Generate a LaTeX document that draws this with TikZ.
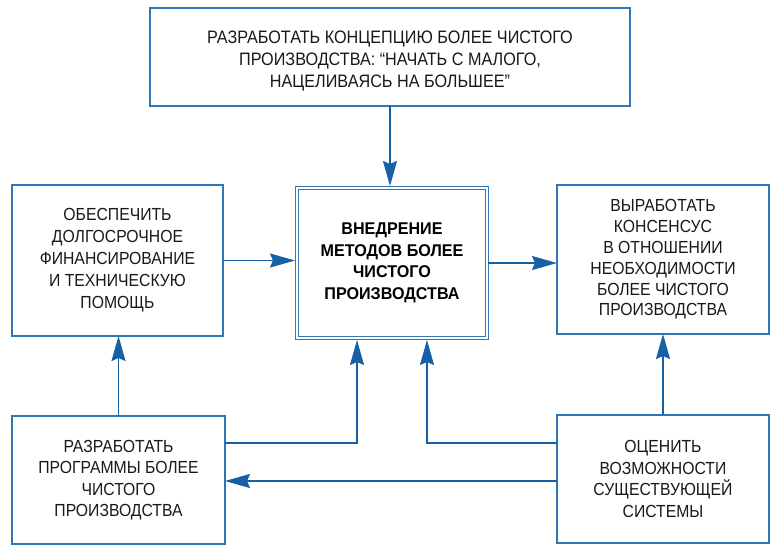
\documentclass[tikz,border=0pt]{standalone}
\usepackage{fontspec}
\setmainfont{Liberation Sans}[FakeStretch=0.9]
\newfontfamily\boldcn{Liberation Sans Bold}[FakeStretch=0.95]
\usetikzlibrary{arrows.meta}
\definecolor{boxblue}{RGB}{48,118,182}
\definecolor{arrblue}{RGB}{24,96,166}
\definecolor{txt}{RGB}{25,25,25}
\begin{document}
\begin{tikzpicture}[x=1pt,y=-1pt,
  box/.style={draw=boxblue, line width=1.3pt, anchor=north west, inner sep=0pt, outer sep=0pt,
    align=center, text=txt, font=\fontsize{17.5}{21.5}\selectfont},
  mainbox/.style={draw=boxblue, double=white, double distance=1.8pt, line width=1.2pt, anchor=north west,
    inner sep=0pt, outer sep=0pt, align=center, text=black, font=\boldcn\fontsize{17}{21.5}\selectfont},
  arr/.style={draw=arrblue, line width=1.5pt, -{Stealth[length=25pt,width=14pt,inset=3pt]}}]
\useasboundingbox[fill=white] (0,0) rectangle (775,544);

\node[box, minimum width=480pt, minimum height=98pt] (top) at (150,8) {};
\node[txt, align=center, font=\fontsize{18}{22}\selectfont] (toptext) at (390,61)
  {РАЗРАБОТАТЬ КОНЦЕПЦИЮ БОЛЕЕ ЧИСТОГО\\ПРОИЗВОДСТВА: “НАЧАТЬ С МАЛОГО,\\НАЦЕЛИВАЯСЬ НА БОЛЬШЕЕ”};

\node[mainbox, minimum width=190pt, minimum height=150pt] (center) at (297,188)
  {ВНЕДРЕНИЕ\\МЕТОДОВ БОЛЕЕ\\ЧИСТОГО\\ПРОИЗВОДСТВА};

\node[box, minimum width=211pt, minimum height=151pt, font=\fontsize{17.5}{22}\selectfont] (left) at (12,185)
  {ОБЕСПЕЧИТЬ\\ДОЛГОСРОЧНОЕ\\ФИНАНСИРОВАНИЕ\\И ТЕХНИЧЕСКУЮ\\ПОМОЩЬ};

\node[box, minimum width=212pt, minimum height=149pt, font=\fontsize{17.5}{20.8}\selectfont] (right) at (557,185)
  {ВЫРАБОТАТЬ\\КОНСЕНСУС\\В ОТНОШЕНИИ\\НЕОБХОДИМОСТИ\\БОЛЕЕ ЧИСТОГО\\ПРОИЗВОДСТВА};

\node[box, minimum width=213pt, minimum height=128pt] (bl) at (12,416)
  {РАЗРАБОТАТЬ\\ПРОГРАММЫ БОЛЕЕ\\ЧИСТОГО\\ПРОИЗВОДСТВА};

\node[box, minimum width=212pt, minimum height=128pt] (br) at (557,415)
  {ОЦЕНИТЬ\\ВОЗМОЖНОСТИ\\СУЩЕСТВУЮЩЕЙ\\СИСТЕМЫ};

\coordinate (j1) at (357,443);
\coordinate (j2) at (427,443);
\coordinate (j3) at (0,481);

\draw[arr] (top.south -| 390,0) -- (390,186);
\draw[arr] (left.east) -- (left.east -| 295,0);
\draw[arr] (center.east -| 488,0) -- (center.east -| right.west);
\draw[arr] (bl.north) -- (bl.north |- left.south);
\draw[arr] (br.north) -- (br.north |- right.south);
\draw[arr] (bl.east |- j1) -- (j1) -- (357,340);
\draw[arr] (br.west |- j2) -- (j2) -- (427,340);
\draw[arr] (br.west |- j3) -- (bl.east |- j3);
\end{tikzpicture}
\end{document}
